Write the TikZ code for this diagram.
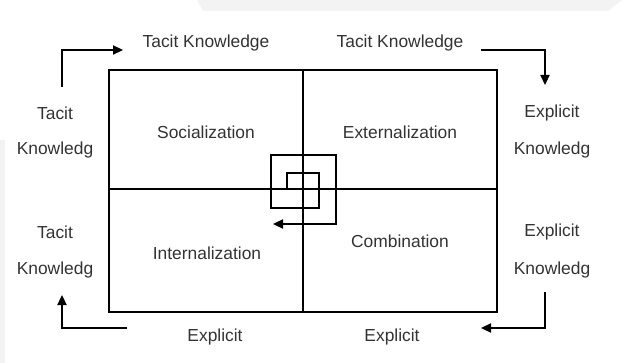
\documentclass[tikz,border=0pt]{standalone}
\usepackage{fontspec}
\setmainfont{Liberation Sans}
\usetikzlibrary{arrows.meta}
\definecolor{txtgray}{HTML}{333333}
\definecolor{bggray}{HTML}{F3F3F3}
\tikzset{
  lbl/.style={font=\fontsize{8.7}{10}\selectfont,text=txtgray,inner sep=1pt},
  arr/.style={-{Triangle[length=5pt,width=4.6pt]},line width=0.7pt},
  grid/.style={line width=0.8pt}
}
\begin{document}
\begin{tikzpicture}[x=0.5pt,y=-0.5pt]
            \useasboundingbox (0,0) rectangle (631,363);
            \fill[bggray] (197,0) -- (622,0) -- (608,11) -- (203,11) -- cycle;
            \fill[bggray] (0,140) rectangle (5,363);

            % the four modes
            \draw[grid] (109,70) rectangle (497,312);
            \draw[grid] (303,70) -- (303,312);
            \draw[grid] (109,189) -- (497,189);
            \node[lbl] (soc) at (206,132) {Socialization};
            \node[lbl] (ext) at (400,132) {Externalization};
            \node[lbl] (int) at (207,253) {Internalization};
            \node[lbl] (com) at (400,241) {Combination};

            % labels around
            \node[lbl] (tk1) at (206,43) {Tacit Knowledge};
            \node[lbl] (tk2) at (400,43) {Tacit Knowledge};
            \node[lbl] (ex1) at (215,337) {Explicit};
            \node[lbl] (ex2) at (392,337) {Explicit};
            \node[lbl] (lt1) at (55,113) {Tacit};
            \node[lbl] (lk1) at (55,150) {Knowledg};
            \node[lbl] (lt2) at (55,232) {Tacit};
            \node[lbl] (lk2) at (55,270) {Knowledg};
            \node[lbl] (re1) at (552,113) {Explicit};
            \node[lbl] (rk1) at (552,150) {Knowledg};
            \node[lbl] (re2) at (552,232) {Explicit};
            \node[lbl] (rk2) at (552,270) {Knowledg};

            % arrow ends
            \coordinate (tl0) at (62,87);
            \coordinate (tl1) at (123,50);
            \coordinate (tr0) at (481,50);
            \coordinate (tr1) at (545,85);
            \coordinate (br0) at (545,292);
            \coordinate (br1) at (481,328);
            \coordinate (bl0) at (127,328);
            \coordinate (bl1) at (62,295);
            \draw[arr] (tl0) |- (tl1);
            \draw[arr] (tr0) -| (tr1);
            \draw[arr] (br0) |- (br1);
            \draw[arr] (bl0) -| (bl1);

            % spiral
            \coordinate (sp0) at (287,190);
            \coordinate (sp1) at (319,173);
            \coordinate (sp2) at (271,208);
            \coordinate (sp3) at (336,155);
            \coordinate (sp4) at (273,224);
            \draw[arr] (sp0) |- (sp1) |- (sp2) |- (sp3) |- (sp4);
        \end{tikzpicture}
\end{document}
